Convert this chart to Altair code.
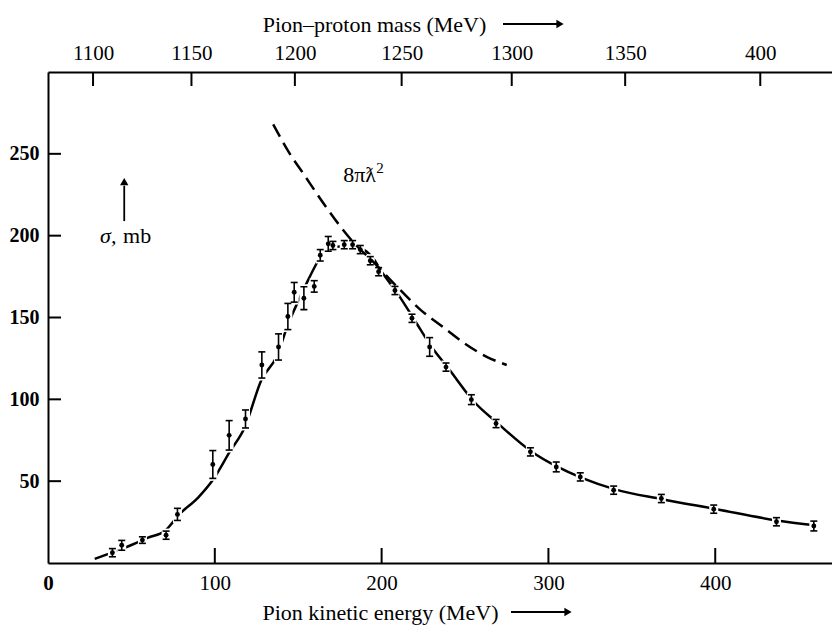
import altair as alt
import pandas as pd

T_data = [38.6, 44.2, 56.6, 70.8, 77.6, 98.8, 108.6, 118.4, 128.2, 138.2, 143.8,
          147.6, 153.4, 159.6, 163.2, 168.0, 170.8, 177.6, 182.6, 187.2, 193.2,
          198.2, 208.0, 218.2, 228.8, 238.6, 253.8, 268.6, 289.2, 304.7, 319.1,
          339.1, 367.7, 399.1, 436.7, 459.1]
sigma_data = [6.3, 10.8, 14.0, 17.0, 29.7, 60.2, 78.0, 88.0, 121.0, 132.0, 150.6,
              165.4, 161.8, 169.0, 188.0, 195.0, 194.0, 194.5, 194.5, 191.5, 184.7,
              178.0, 166.5, 149.5, 132.0, 119.7, 99.8, 85.2, 67.9, 58.7, 52.6,
              44.5, 39.4, 32.9, 25.2, 22.6]
err_data = [2.5, 3.0, 2.0, 2.5, 3.7, 8.5, 9.0, 5.5, 8.0, 8.0, 8.0,
            6.0, 7.0, 3.5, 3.5, 4.5, 2.5, 2.5, 2.5, 2.5, 2.5,
            2.5, 2.5, 2.5, 5.7, 2.5, 3.0, 2.5, 2.5, 3.0, 2.5,
            2.5, 2.5, 2.5, 2.5, 3.0]

# ---- smooth curve through the data ----
fit_T = [28, 40, 50, 60, 70, 79, 90, 99, 109, 118, 128, 137, 144, 150, 156, 161,
         165, 170, 180, 188, 195, 200, 210, 220, 230, 240, 255, 270, 290, 305,
         320, 340, 368, 400, 437, 460]
fit_sigma = [2.5, 7, 11, 15.5, 19.5, 30, 40, 51, 68, 83, 112, 126, 146, 160, 173,
             183, 190, 193, 193.5, 192, 186, 178, 164, 148, 132, 119, 99, 85, 68,
             59, 52, 45, 39, 33, 26, 23]

# ---- 8 pi lambda-bar^2 unitarity limit (dashed) ----
geo_T = [135, 145, 153, 165, 175, 183, 195, 210, 223, 237, 250, 263, 275]
geo_sigma = [268, 250, 238, 220, 206, 196, 184, 168, 155, 144, 134, 126, 121]

# ---- axes ----
x_tick_values = [0, 100, 200, 300, 400]
y_tick_values = [50, 100, 150, 200, 250]
top_tick_T = [27, 86, 148, 212, 278, 346, 427]
top_tick_labels = ["1100", "1150", "1200", "1250", "1300", "1350", "400"]

W, H = 784, 491
FONT = "Liberation Serif"

df = pd.DataFrame({"T": T_data, "sigma": sigma_data, "err": err_data})
df["lo"] = df["sigma"] - df["err"]
df["hi"] = df["sigma"] + df["err"]
df["glo"] = df["lo"] - 1.5
df["ghi"] = df["hi"] + 1.5
fit_df = pd.DataFrame({"T": fit_T, "sigma": fit_sigma})
geo_df = pd.DataFrame({"T": geo_T, "sigma": geo_sigma})

xs = alt.Scale(domain=[0, 470], nice=False, zero=False)
ys = alt.Scale(domain=[0, 300], nice=False, zero=False)

common_axis = dict(grid=False, tickSize=0, domainColor="black", domainWidth=2,
                   labelColor="black", labelFont=FONT, titleFont=FONT,
                   titleColor="black", titleFontWeight="normal", titleFontSize=22)

x_axis = alt.Axis(orient="bottom", values=x_tick_values,
                  title="Pion kinetic energy (MeV)",
                  labelFontSize=21, labelPadding=9, labelFlush=False,
                  labelFontWeight={"condition": {"test": "datum.value == 0", "value": "bold"},
                                   "value": "normal"},
                  titleX=332, titleY=49, titleAlign="center", titleBaseline="middle",
                  **common_axis)
y_axis = alt.Axis(orient="left", values=y_tick_values, title=None,
                  labelFontSize=20, labelFontWeight="bold", labelPadding=9,
                  **common_axis)

top_expr = "".join(f"datum.value == {t} ? '{l}' : " for t, l in zip(top_tick_T, top_tick_labels)) + "''"
top_axis = alt.Axis(orient="top", values=top_tick_T, labelExpr=top_expr,
                    title="Pion\u2013proton mass (MeV)",
                    labelFontSize=21, labelPadding=9, labelFlush=False,
                    titleX=326, titleY=-48, titleAlign="center", titleBaseline="middle",
                    **common_axis)

X = lambda f: alt.X(f, scale=xs, axis=x_axis)
Y = lambda f: alt.Y(f, scale=ys, axis=y_axis)

fit_line = alt.Chart(fit_df).mark_line(color="black", strokeWidth=2.5, interpolate="monotone").encode(
    x=X("T:Q"), y=Y("sigma:Q"))
gaps = alt.Chart(df).mark_rule(color="white", strokeWidth=9).encode(
    x=X("T:Q"), y=Y("glo:Q"), y2="ghi:Q")
bars = alt.Chart(df).mark_rule(color="black", strokeWidth=1.6).encode(
    x=X("T:Q"), y=Y("lo:Q"), y2="hi:Q")
caps_lo = alt.Chart(df).mark_tick(color="black", orient="horizontal", size=7, thickness=1.6, opacity=1).encode(
    x=X("T:Q"), y=Y("lo:Q"))
caps_hi = alt.Chart(df).mark_tick(color="black", orient="horizontal", size=7, thickness=1.6, opacity=1).encode(
    x=X("T:Q"), y=Y("hi:Q"))
pts = alt.Chart(df).mark_circle(color="black", size=24, opacity=1).encode(
    x=X("T:Q"), y=Y("sigma:Q"))
geo = alt.Chart(geo_df).mark_line(color="black", strokeWidth=2.5, strokeDash=[14, 7],
                                  interpolate="monotone").encode(x=X("T:Q"), y=Y("sigma:Q"))

bottom_ticks = alt.Chart(pd.DataFrame({"t": x_tick_values[1:]})).mark_rule(color="black", strokeWidth=2).encode(
    x=X("t:Q"), y=alt.value(H), y2=alt.value(H - 15))
left_ticks = alt.Chart(pd.DataFrame({"v": y_tick_values})).mark_rule(color="black", strokeWidth=2).encode(
    y=Y("v:Q"), x=alt.value(0), x2=alt.value(13))

# annotations
label_df = pd.DataFrame({"T": [177], "sigma": [232.7], "txt": ["8\u03c0\u019b"]})
geo_label = alt.Chart(label_df).mark_text(font=FONT, fontSize=22, color="black", align="left",
                                          baseline="alphabetic").encode(
    x=X("T:Q"), y=Y("sigma:Q"), text="txt:N")
sup_df = pd.DataFrame({"T": [196.8], "sigma": [238.5], "txt": ["2"]})
geo_sup = alt.Chart(sup_df).mark_text(font=FONT, fontSize=15, color="black", align="left",
                                      baseline="alphabetic").encode(
    x=X("T:Q"), y=Y("sigma:Q"), text="txt:N")
sig_df = pd.DataFrame({"T": [31.2], "sigma": [195.5], "txt": ["\u03c3,"]})
sig_label = alt.Chart(sig_df).mark_text(font=FONT, fontSize=22, fontStyle="italic", color="black",
                                        align="left", baseline="alphabetic").encode(
    x=X("T:Q"), y=Y("sigma:Q"), text="txt:N")
mb_df = pd.DataFrame({"T": [45], "sigma": [195.5], "txt": ["mb"]})
mb_label = alt.Chart(mb_df).mark_text(font=FONT, fontSize=22, color="black",
                                      align="left", baseline="alphabetic").encode(
    x=X("T:Q"), y=Y("sigma:Q"), text="txt:N")
arr_df = pd.DataFrame({"T": [45.7], "s1": [208.9], "s2": [230.5], "tip": [233.0]})
sig_arrow = alt.Chart(arr_df).mark_rule(color="black", strokeWidth=1.8).encode(
    x=X("T:Q"), y=Y("s1:Q"), y2="s2:Q")
sig_head = alt.Chart(arr_df).mark_point(shape="triangle-up", filled=True, size=70, color="black", opacity=1).encode(
    x=X("T:Q"), y=Y("tip:Q"))

one = pd.DataFrame({"k": [0]})
top_arrow = alt.Chart(one).mark_rule(color="black", strokeWidth=1.8).encode(
    x=alt.value(455), x2=alt.value(511), y=alt.value(-48))
top_head = alt.Chart(one).mark_point(shape="triangle-right", filled=True, size=70, color="black", opacity=1).encode(
    x=alt.value(512), y=alt.value(-48))
bot_arrow = alt.Chart(one).mark_rule(color="black", strokeWidth=1.8).encode(
    x=alt.value(463), x2=alt.value(519), y=alt.value(540))
bot_head = alt.Chart(one).mark_point(shape="triangle-right", filled=True, size=70, color="black", opacity=1).encode(
    x=alt.value(520), y=alt.value(540))

main = alt.layer(fit_line, gaps, bars, caps_lo, caps_hi, pts, geo, bottom_ticks, left_ticks,
                 geo_label, geo_sup, sig_label, mb_label, sig_arrow, sig_head,
                 top_arrow, top_head, bot_arrow, bot_head)

top_ticks = alt.Chart(pd.DataFrame({"tt": top_tick_T})).mark_rule(color="black", strokeWidth=2).encode(
    x=alt.X("tt:Q", scale=xs, axis=top_axis), y=alt.value(0), y2=alt.value(14))

chart = alt.layer(main, top_ticks).resolve_scale(x="independent").properties(
    width=W, height=H,
    padding={"left": 40, "top": 64, "right": 0, "bottom": 69},
    autosize=alt.AutoSizeParams(type="none"),
    background="white",
).configure_view(stroke=None)

chart.save("out.html", embed_options={"renderer": "svg", "actions": False})
